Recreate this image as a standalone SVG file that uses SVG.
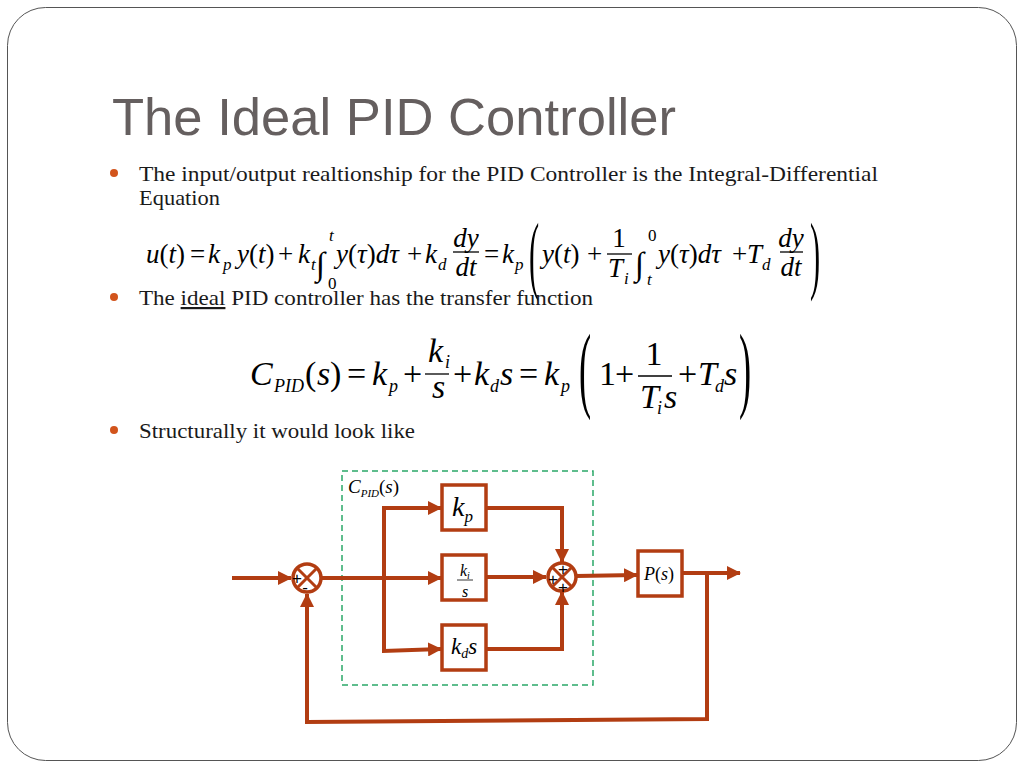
<svg xmlns="http://www.w3.org/2000/svg" width="1024" height="768" viewBox="0 0 1024 768">
<defs>
<style>
.title{font-family:"Liberation Sans",Arial,sans-serif;font-size:52px;fill:#655f5f}
.bt{font-family:"Liberation Serif","Times New Roman",serif;font-size:22px;fill:#1a1a1a}
.dot{fill:#d2541c}
.m{font-family:"Liberation Serif",serif;font-size:27px;fill:#000}
.m2{font-family:"Liberation Serif",serif;font-size:34px;fill:#000}
.i{font-style:italic}
.sb{font-size:17px}
.sb2{font-size:18px}
.int{font-size:33px}
.bar{stroke:#000;stroke-width:1.3}
.w{fill:none;stroke:#b23d12;stroke-width:4;stroke-linejoin:miter}
.box{fill:#fff;stroke:#b23d12;stroke-width:3.5}
.sum{fill:#fff;stroke:#b23d12;stroke-width:3.5}
.x{stroke:#b23d12;stroke-width:3}
.lbl{font-family:"Liberation Serif",serif;fill:#000}
.sg{font-family:"Liberation Sans",Arial,sans-serif;font-size:17px;fill:#000}
</style>
<marker id="ah" markerUnits="userSpaceOnUse" markerWidth="14" markerHeight="14" refX="13" refY="7" orient="auto">
<path d="M0,0 L14,7 L0,14 Z" fill="#b23d12"/>
</marker>
</defs>
<rect x="7.5" y="7.5" width="1009" height="753" rx="38" fill="#fff" stroke="#555" stroke-width="1"/>

<text class="title" x="112" y="135" textLength="564" lengthAdjust="spacingAndGlyphs">The Ideal PID Controller</text>

<circle class="dot" cx="114" cy="173" r="4"/>
<text class="bt" x="139" y="181" textLength="739" lengthAdjust="spacingAndGlyphs">The input/output realtionship for the PID Controller is the Integral-Differential</text>
<text class="bt" x="139" y="205" textLength="81" lengthAdjust="spacingAndGlyphs">Equation</text>

<g id="eq1">
<text class="m" x="146" y="263"><tspan class="i">u</tspan>(<tspan class="i">t</tspan>)</text>
<text class="m" x="190" y="263">=</text>
<text class="m i" x="208" y="263">k</text><text class="m i sb" x="223" y="270">p</text>
<text class="m" x="237" y="263"><tspan class="i">y</tspan>(<tspan class="i">t</tspan>)</text>
<text class="m" x="278" y="263">+</text>
<text class="m i" x="298" y="263">k</text><text class="m i sb" x="311" y="270">t</text>
<text class="m int" x="316" y="275">∫</text>
<text class="m i sb" x="329" y="241">t</text><text class="m sb" x="328" y="289">0</text>
<text class="m" x="336" y="263"><tspan class="i">y</tspan>(<tspan class="i">τ</tspan>)<tspan class="i">dτ</tspan></text>
<text class="m" x="407" y="263">+</text>
<text class="m i" x="425" y="263">k</text><text class="m i sb" x="438" y="270">d</text>
<text class="m i" x="466" y="247" text-anchor="middle">dy</text>
<line class="bar" x1="453" y1="252" x2="479" y2="252"/>
<text class="m i" x="466" y="276" text-anchor="middle">dt</text>
<text class="m" x="484" y="263">=</text>
<text class="m i" x="502" y="263">k</text><text class="m i sb" x="515" y="270">p</text>
<text class="m" transform="translate(529,283) scale(0.35,1)" style="font-size:87px">(</text>
<text class="m" x="542" y="263"><tspan class="i">y</tspan>(<tspan class="i">t</tspan>)</text>
<text class="m" x="587" y="263">+</text>
<text class="m" x="619" y="247" text-anchor="middle">1</text>
<line class="bar" x1="607" y1="254" x2="632" y2="254"/>
<text class="m i" x="608" y="277">T</text><text class="m i sb" x="624" y="284">i</text>
<text class="m int" x="635" y="275">∫</text>
<text class="m sb" x="648" y="241">0</text><text class="m i sb" x="647" y="285">t</text>
<text class="m" x="658" y="263"><tspan class="i">y</tspan>(<tspan class="i">τ</tspan>)<tspan class="i">dτ</tspan></text>
<text class="m" x="732" y="263">+</text>
<text class="m i" x="747" y="263">T</text><text class="m i sb" x="762" y="270">d</text>
<text class="m i" x="791" y="247" text-anchor="middle">dy</text>
<line class="bar" x1="780" y1="252" x2="803" y2="252"/>
<text class="m i" x="791" y="276" text-anchor="middle">dt</text>
<text class="m" transform="translate(810,283) scale(0.35,1)" style="font-size:87px">)</text>
</g>

<circle class="dot" cx="114" cy="297" r="4"/>
<text class="bt" x="139" y="305" textLength="454" lengthAdjust="spacingAndGlyphs">The <tspan text-decoration="underline">ideal</tspan> PID controller has the transfer function</text>

<g id="eq2">
<text class="m2 i" x="250" y="385">C</text>
<text class="m2 i sb2" x="274" y="392">PID</text>
<text class="m2" x="305" y="385">(</text>
<text class="m2 i" x="317" y="385">s</text>
<text class="m2" x="330" y="385">)</text>
<text class="m2" x="347" y="385">=</text>
<text class="m2 i" x="372" y="385">k</text>
<text class="m2 i sb2" x="389" y="392">p</text>
<text class="m2" x="403" y="385">+</text>
<text class="m2 i" x="428" y="362">k</text>
<text class="m2 i sb2" x="445" y="368">i</text>
<line class="bar" x1="425" y1="374" x2="449" y2="374"/>
<text class="m2 i" x="432" y="398">s</text>
<text class="m2" x="453" y="385">+</text>
<text class="m2 i" x="474" y="385">k</text>
<text class="m2 i sb2" x="490" y="392">d</text>
<text class="m2 i" x="500" y="385">s</text>
<text class="m2" x="519" y="385">=</text>
<text class="m2 i" x="544" y="385">k</text>
<text class="m2 i sb2" x="561" y="392">p</text>
<text class="m2" transform="translate(579,400) scale(0.38,1)" style="font-size:96px">(</text>
<text class="m2" x="599" y="385">1</text>
<text class="m2" x="615" y="385">+</text>
<text class="m2" x="654" y="365" text-anchor="middle">1</text>
<line class="bar" x1="638" y1="376" x2="672" y2="376"/>
<text class="m2 i" x="640" y="408">T</text>
<text class="m2 i sb2" x="657" y="414">i</text>
<text class="m2 i" x="664" y="408">s</text>
<text class="m2" x="678" y="385">+</text>
<text class="m2 i" x="698" y="385">T</text>
<text class="m2 i sb2" x="715" y="392">d</text>
<text class="m2 i" x="724" y="385">s</text>
<text class="m2" transform="translate(739,400) scale(0.38,1)" style="font-size:96px">)</text>
</g>

<circle class="dot" cx="114" cy="430" r="4"/>
<text class="bt" x="139" y="438" textLength="276" lengthAdjust="spacingAndGlyphs">Structurally it would look like</text>

<g id="cpid-boundary">
<rect x="342" y="471" width="251" height="214" fill="none" stroke="#2aa868" stroke-width="1.5" stroke-dasharray="6,4"/>
<text class="lbl" x="348" y="493" style="font-size:19px"><tspan class="i">C</tspan><tspan class="i" style="font-size:11px" dy="4">PID</tspan><tspan dy="-4">(</tspan><tspan class="i">s</tspan>)</text>
</g>

<g id="connectors">
<line class="w" x1="232" y1="578" x2="291" y2="578" marker-end="url(#ah)"/>
<line class="w" x1="321" y1="578" x2="441" y2="578" marker-end="url(#ah)"/>
<polyline class="w" points="441,508 384,508 384,651 441,649" marker-end="url(#ah)"/>
<line class="w" x1="384" y1="508" x2="441" y2="508" marker-end="url(#ah)"/>
<polyline class="w" points="486,508 562,508 562,562" marker-end="url(#ah)"/>
<line class="w" x1="486" y1="577" x2="546" y2="577" marker-end="url(#ah)"/>
<polyline class="w" points="486,649 562,649 562,592" marker-end="url(#ah)"/>
<line class="w" x1="576" y1="576" x2="637" y2="575" marker-end="url(#ah)"/>
<line class="w" x1="682" y1="573" x2="740" y2="573" marker-end="url(#ah)"/>
<polyline class="w" points="707,573 707,719 307,722 307,594" marker-end="url(#ah)"/>
</g>

<g id="sum1">
<circle class="sum" cx="307" cy="578" r="14"/>
<line class="x" x1="297" y1="568" x2="317" y2="588"/>
<line class="x" x1="317" y1="568" x2="297" y2="588"/>
<text class="sg" x="297" y="584" text-anchor="middle">+</text>
<text class="sg" x="305" y="593" text-anchor="middle">-</text>
</g>

<g id="kp">
<rect class="box" x="442" y="485" width="44" height="45"/>
<text class="lbl" x="452" y="516" style="font-size:28px"><tspan class="i">k</tspan><tspan class="i" style="font-size:17px" dy="6">p</tspan></text>
</g>

<g id="ki">
<rect class="box" x="442" y="555" width="44" height="45"/>
<text class="lbl i" x="460" y="576" style="font-size:16px">k<tspan style="font-size:10px" dy="3">i</tspan></text>
<line x1="457" y1="580" x2="473" y2="580" stroke="#000" stroke-width="0.8"/>
<text class="lbl i" x="465" y="597" text-anchor="middle" style="font-size:16px">s</text>
</g>

<g id="kd">
<rect class="box" x="442" y="625" width="44" height="45"/>
<text class="lbl i" x="451" y="654" style="font-size:23px">k<tspan style="font-size:14px" dy="4">d</tspan><tspan dy="-4">s</tspan></text>
</g>

<g id="sum2">
<circle class="sum" cx="562" cy="577" r="14"/>
<line class="x" x1="552" y1="567" x2="572" y2="587"/>
<line class="x" x1="572" y1="567" x2="552" y2="587"/>
<text class="sg" x="563" y="575" text-anchor="middle">+</text>
<text class="sg" x="553" y="585" text-anchor="middle">+</text>
<text class="sg" x="563" y="593" text-anchor="middle">+</text>
</g>

<g id="plant">
<rect class="box" x="638" y="551" width="44" height="45"/>
<text class="lbl" x="644" y="580" style="font-size:18px"><tspan class="i">P</tspan>(<tspan class="i">s</tspan>)</text>
</g>
</svg>
